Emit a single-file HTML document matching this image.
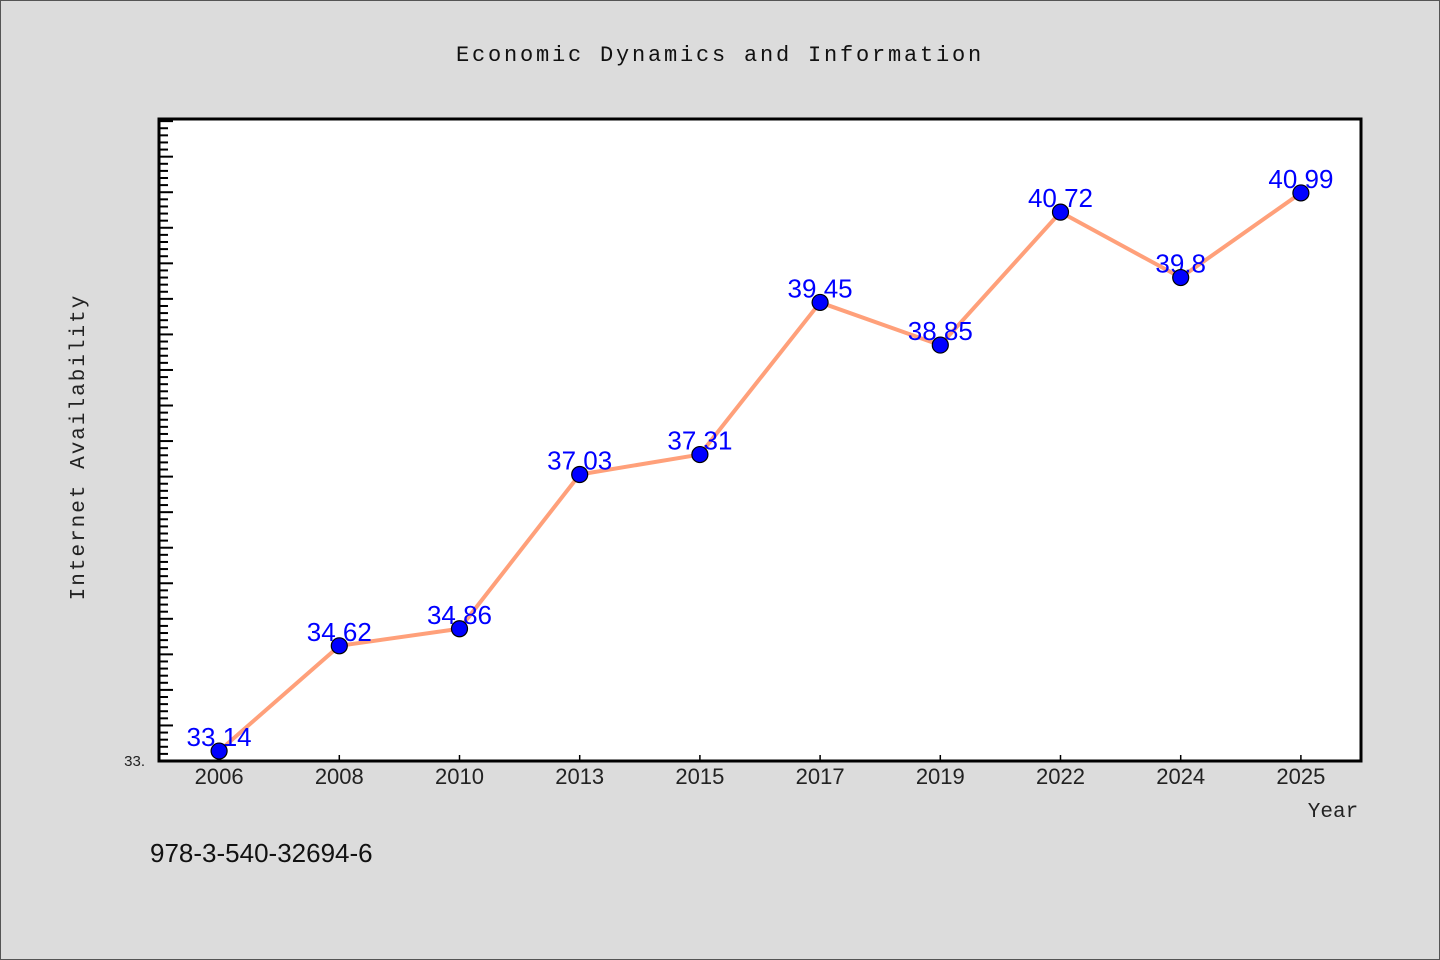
<!DOCTYPE html>
<html><head><meta charset="utf-8"><style>
html,body{margin:0;padding:0;background:#dcdcdc;}
svg{display:block;font-family:"Liberation Sans","WenQuanYi Zen Hei",sans-serif;}
</style></head><body>
<svg id="chart" width="1440" height="960">
<rect x="0.5" y="0.5" width="1439" height="959" fill="#dcdcdc" stroke="#555"/>
<text x="720" y="61" text-anchor="middle" font-family="Liberation Mono, monospace" font-size="22" letter-spacing="2.8" fill="#111">Economic Dynamics and Information</text>
<rect x="159" y="119" width="1202" height="642" fill="#fff"/>
<g id="yticks"></g>
<g id="xaxis"></g>
<polyline id="line" fill="none" stroke="#ffa07a" stroke-width="4" stroke-linejoin="round"/>
<g id="labels"></g>
<g id="points"></g>
<rect x="159" y="119" width="1202" height="642" fill="none" stroke="#000" stroke-width="3"/>
<text x="145" y="766" text-anchor="end" font-size="15" fill="#222">33.</text>
<text x="1333" y="817" text-anchor="middle" font-family="Liberation Mono, monospace" font-size="21" fill="#222">Year</text>
<text transform="translate(84,447) rotate(-90)" text-anchor="middle" font-family="Liberation Mono, monospace" font-size="21" letter-spacing="2" fill="#222">Internet Availability</text>
<text x="150" y="862" font-size="26" fill="#111">978-3-540-32694-6</text>
</svg>
<script>
const categories = ["2006","2008","2010","2013","2015","2017","2019","2022","2024","2025"];
const values = [33.14,34.62,34.86,37.03,37.31,39.45,38.85,40.72,39.8,40.99];
const valueLabels = ["33.14","34.62","34.86","37.03","37.31","39.45","38.85","40.72","39.8","40.99"];
const yMin = 33, yMax = 42.03;
const NS="http://www.w3.org/2000/svg";
const L=159,R=1361,T=119,B=761;
function xs(i){return L+(R-L)/categories.length*(i+0.5);}
function ys(v){return B-(v-yMin)/(yMax-yMin)*(B-T);}
function mk(t,a,p){const e=document.createElementNS(NS,t);for(const k in a)e.setAttribute(k,a[k]);p.appendChild(e);return e;}
const yt=document.getElementById('yticks');
for(let k=1;;k++){const v=yMin+k*0.1;if(v>yMax)break;const y=ys(v);const major=k%5===0;
 const e=mk('line',{x1:L,x2:L+(major?14:9),y1:y,y2:y,stroke:'#000','stroke-width':2},yt);
 
 }
const xa=document.getElementById('xaxis');
const pts=[];
categories.forEach((c,i)=>{const x=xs(i);
 const t=mk('line',{x1:x,x2:x,y1:B,y2:B-6,stroke:'#000','stroke-width':1.5},xa);
 
 
 const l=mk('text',{x:x,y:784,'text-anchor':'middle','font-size':22,fill:'#222'},xa);l.textContent=c;
 
 
 pts.push(x+','+ys(values[i]));});
document.getElementById('line').setAttribute('points',pts.join(' '));
const lg=document.getElementById('labels'),pg=document.getElementById('points');
values.forEach((v,i)=>{const x=xs(i),y=ys(v);
 const t=mk('text',{x:x,y:y-5,'text-anchor':'middle','font-size':26,fill:'#0000ff'},lg);t.textContent=valueLabels[i];
 
 
 const c=mk('circle',{cx:x,cy:y,r:8,fill:'#0000ff',stroke:'#000','stroke-width':1.2},pg);
 
 });
</script>
</body></html>
